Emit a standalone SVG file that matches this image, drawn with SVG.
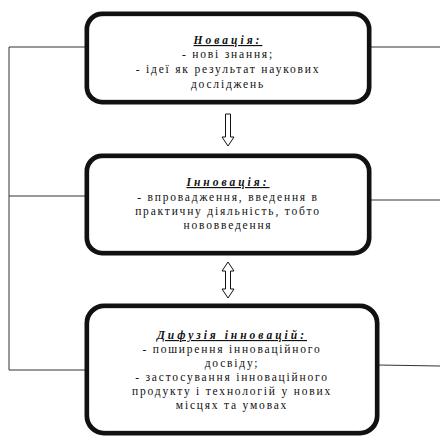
<svg xmlns="http://www.w3.org/2000/svg" width="440" height="437" viewBox="0 0 440 437">
<style>
.box{fill:#fff;stroke:#111;stroke-width:5}
.hl{fill:none;stroke:#fff;stroke-width:0.7}
.ln{fill:none;stroke:#333;stroke-width:1}
.ar{fill:#fff;stroke:#111;stroke-width:1}
text{font-family:"Liberation Serif","DejaVu Serif",serif;font-size:11.5px;fill:#111;text-anchor:middle;letter-spacing:1.8px}
.t{font-weight:bold;font-style:italic;text-decoration:underline;letter-spacing:3px}
</style>
<rect width="440" height="437" fill="#fff"/>
<g id="connectors">
<polyline class="ln" points="86,47 9,47 9,370 86,370"/>
<line class="ln" x1="9" y1="196" x2="86" y2="196"/>
<line class="ln" x1="370" y1="47" x2="440" y2="47"/>
<line class="ln" x1="370" y1="200" x2="440" y2="200"/>
<line class="ln" x1="378" y1="365" x2="440" y2="366"/>
<path class="ar" d="M225.5,114 H230.5 V137 H234 L228,146 L222,137 H225.5 Z"/>
<path class="ar" d="M228,262 L234,271 H230.5 V289 H234 L228,298 L222,289 H225.5 V271 H222 Z"/>
</g>
<g id="node1">
<rect class="box" x="87" y="14" width="282" height="88" rx="15"/>
<rect class="hl" x="89.5" y="16.5" width="277" height="83" rx="13"/>
<text class="t" x="228" y="44">Новація:</text>
<text x="228" y="58">- нові знання;</text>
<text x="228" y="73">- ідеї як результат наукових</text>
<text x="228" y="88">досліджень</text>
</g>
<g id="node2">
<rect class="box" x="87" y="156" width="282" height="97" rx="15"/>
<rect class="hl" x="89.5" y="158.5" width="277" height="92" rx="13"/>
<text class="t" x="228" y="186">Інновація:</text>
<text x="228" y="201">- впровадження, введення в</text>
<text x="228" y="215">практичну діяльність, тобто</text>
<text x="228" y="229">нововведення</text>
</g>
<g id="node3">
<rect class="box" x="87" y="306" width="290" height="127" rx="17"/>
<rect class="hl" x="89.5" y="308.5" width="285" height="122" rx="15"/>
<text class="t" x="232" y="339">Дифузія інновацій:</text>
<text x="232" y="353">- поширення інноваційного</text>
<text x="232" y="367">досвіду;</text>
<text x="232" y="381">- застосування інноваційного</text>
<text x="232" y="395">продукту і технологій у нових</text>
<text x="232" y="409">місцях та умовах</text>
</g>
</svg>
